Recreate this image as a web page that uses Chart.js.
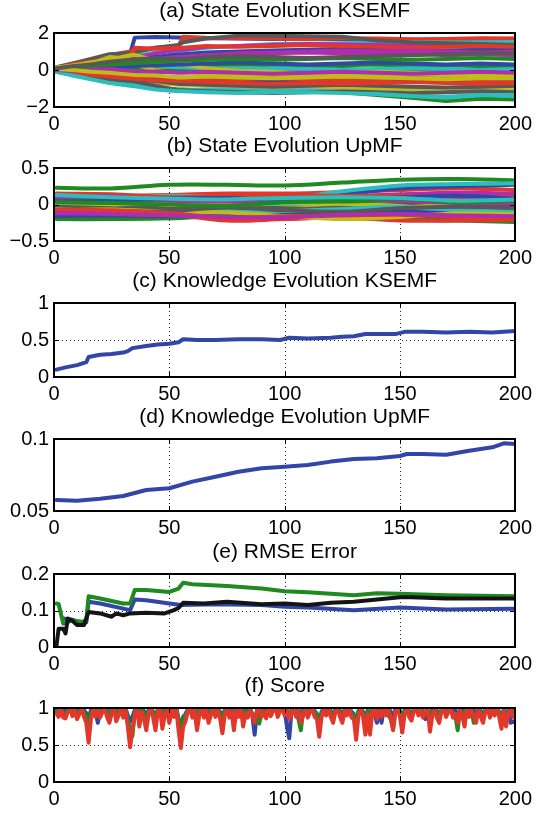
<!DOCTYPE html>
<html><head><meta charset="utf-8">
<script src="https://cdn.jsdelivr.net/npm/chart.js@4/dist/chart.umd.min.js"></script>
<style>
html,body{margin:0;padding:0;background:#fff;}
body{width:537px;height:817px;position:relative;overflow:hidden;}
canvas{position:absolute;left:0;}
</style></head><body>
<canvas id="pa"></canvas><canvas id="pb"></canvas><canvas id="pc"></canvas>
<canvas id="pd"></canvas><canvas id="pe"></canvas><canvas id="pf"></canvas>
<script>
// ---------- shared tick data ----------
const xTicks = [0, 50, 100, 150, 200];
const xLabels = ['0', '50', '100', '150', '200'];

// ---------- (a) State Evolution KSEMF ----------
const titleA = '(a) State Evolution KSEMF';
const yTicksA = [-2, 0, 2];
const yLabelsA = ['\u22122', '0', '2'];
const tA = [1, 8, 16, 24, 33, 35, 44, 54, 56, 66, 80, 95, 110, 125, 140, 155, 170, 185, 200];
const statesA = [
  [0.05,0.2,0.45,0.6,0.88,1.75,1.78,1.76,1.74,1.72,1.7,1.68,1.7,1.66,1.62,1.64,1.58,1.6,1.55],
  [-0.05,-0.2,-0.35,-0.55,-0.7,-0.75,-0.95,-1.05,-1.05,-1.1,-1.12,-1.1,-1.15,-1.2,-1.35,-1.5,-1.68,-1.55,-1.6],
  [0.1,0.3,0.55,0.8,1.0,1.05,1.2,1.3,1.8,1.75,1.72,1.7,1.68,1.72,1.7,1.66,1.68,1.72,1.7],
  [0.0,0.15,0.3,0.5,0.7,0.75,0.95,1.05,1.05,1.2,1.3,1.4,1.42,1.45,1.5,1.52,1.48,1.5,1.52],
  [0.08,0.2,0.35,0.45,0.6,0.65,0.9,1.1,1.1,1.25,1.3,1.35,1.4,1.38,1.35,1.3,1.32,1.35,1.3],
  [0.1,0.05,-0.1,-0.3,-0.5,-0.55,-0.7,-0.8,-0.8,-0.85,-0.9,-0.95,-0.9,-0.95,-1.0,-1.05,-1.0,-0.98,-1.0],
  [0.15,0.35,0.6,0.85,0.9,0.95,1.2,1.35,1.5,1.7,1.85,1.85,1.83,1.8,1.6,1.5,1.45,1.4,1.35],
  [0.0,0.1,0.25,0.3,0.45,0.5,0.7,0.85,0.85,0.95,1.0,1.05,1.1,1.15,1.12,1.1,1.05,1.1,1.1],
  [-0.05,-0.1,0.0,0.1,0.05,0.05,0.15,0.2,0.2,0.25,0.3,0.25,0.2,0.25,0.3,0.2,0.25,0.2,0.2],
  [0.1,0.3,0.45,0.6,0.7,1.2,1.15,1.2,1.2,1.3,1.25,1.3,1.35,1.3,1.25,1.2,1.25,1.3,1.25],
  [-0.1,-0.25,-0.45,-0.65,-0.75,-0.78,-1.0,-1.1,-1.1,-1.05,-1.1,-1.15,-1.1,-1.2,-1.3,-1.4,-1.45,-1.35,-1.4],
  [0.05,0.15,0.3,0.35,0.5,0.55,0.6,0.7,0.7,0.8,0.85,0.9,0.95,0.9,0.85,0.9,0.8,0.85,0.8],
  [0.15,0.2,0.35,0.7,0.6,0.3,0.0,-0.1,-0.1,-0.2,-0.25,-0.3,-0.25,-0.2,-0.3,-0.35,-0.3,-0.25,-0.3],
  [0.0,-0.1,-0.2,-0.3,-0.45,-0.5,-0.6,-0.75,-0.75,-0.8,-0.85,-0.9,-0.85,-0.8,-0.85,-0.9,-0.95,-0.9,-0.85],
  [-0.05,-0.15,-0.2,-0.35,-0.4,-0.42,-0.5,-0.55,-0.55,-0.6,-0.55,-0.6,-0.65,-0.6,-0.55,-0.6,-0.65,-0.6,-0.6],
  [0.0,0.05,0.1,0.0,-0.1,-0.12,-0.1,0.0,0.0,0.05,0.0,-0.05,0.0,0.05,0.0,-0.05,-0.1,-0.05,-0.05],
  [0.05,-0.05,-0.15,-0.2,-0.3,-0.32,-0.35,-0.4,-0.4,-0.45,-0.5,-0.45,-0.5,-0.55,-0.5,-0.45,-0.5,-0.55,-0.5],
  [0.05,0.1,0.1,0.2,0.3,0.32,0.25,0.15,0.15,0.1,0.05,0.1,0.05,0.0,0.05,0.1,0.05,0.0,0.05],
  [0.02,0.1,0.2,0.3,0.4,0.42,0.55,0.7,0.7,0.8,0.9,0.95,1.0,1.05,1.0,1.05,1.0,0.95,1.0],
  [0.1,0.25,0.4,0.55,0.8,0.82,0.5,0.3,0.3,0.1,-0.05,-0.1,-0.2,-0.15,-0.1,-0.15,-0.2,-0.2,-0.2],
  [-0.1,-0.2,-0.35,-0.5,-0.6,-0.62,-0.85,-1.1,-1.1,-1.15,-1.2,-1.25,-1.2,-1.15,-1.2,-1.25,-1.2,-1.15,-1.2],
  [0.0,0.05,0.15,0.1,0.2,0.22,0.25,0.3,0.3,0.35,0.4,0.35,0.3,0.35,0.4,0.35,0.3,0.35,0.3],
  [0.05,0.15,0.2,0.3,0.35,0.37,0.45,0.5,0.5,0.55,0.6,0.55,0.6,0.65,0.6,0.55,0.6,0.65,0.6],
  [-0.05,-0.15,-0.25,-0.35,-0.45,-0.47,-0.55,-0.6,-0.6,-0.65,-0.7,-0.75,-0.7,-0.75,-0.7,-0.65,-0.7,-0.75,-0.7],
  [-0.1,-0.3,-0.5,-0.7,-0.85,-0.88,-1.05,-1.15,-1.15,-1.2,-1.25,-1.2,-1.2,-1.25,-1.3,-1.4,-1.5,-1.35,-1.35],
  [0.0,-0.05,0.0,0.05,-0.05,-0.07,-0.1,-0.15,-0.15,-0.1,-0.15,-0.2,-0.15,-0.1,-0.15,-0.2,-0.15,-0.1,-0.15],
  [0.05,0.0,-0.1,-0.15,-0.25,-0.27,-0.3,-0.4,-0.4,-0.35,-0.4,-0.45,-0.4,-0.35,-0.4,-0.45,-0.5,-0.45,-0.45],
  [0.1,0.2,0.3,0.45,0.55,0.57,0.65,0.6,0.6,0.7,0.75,0.7,0.65,0.7,0.75,0.8,0.85,0.9,0.9]
];

// ---------- (b) State Evolution UpMF ----------
const titleB = '(b) State Evolution UpMF';
const yTicksB = [-0.5, 0, 0.5];
const yLabelsB = ['\u22120.5', '0', '0.5'];
const tB = [1, 25, 50, 75, 100, 125, 150, 175, 200];
const statesB = [
  [-0.15,-0.15,-0.14,-0.16,-0.15,-0.17,-0.18,-0.17,-0.16],
  [0.23,0.22,0.27,0.27,0.26,0.3,0.34,0.35,0.33],
  [0.12,0.12,0.13,0.15,0.15,0.17,0.2,0.22,0.2],
  [-0.05,-0.08,-0.05,-0.02,0.0,0.02,0.05,0.1,0.12],
  [0.05,0.06,0.07,0.06,0.07,0.06,0.13,0.14,0.13],
  [0.0,0.01,-0.02,-0.05,-0.05,-0.03,-0.02,0.0,-0.01],
  [0.02,0.0,-0.06,-0.05,-0.07,-0.04,0.01,0.05,0.03],
  [0.1,0.1,0.08,0.1,0.12,0.14,0.22,0.25,0.27],
  [-0.2,-0.2,-0.19,-0.15,-0.14,-0.15,-0.2,-0.22,-0.24],
  [-0.12,-0.11,-0.13,-0.22,-0.2,-0.18,-0.22,-0.22,-0.21],
  [0.1,0.09,0.12,0.1,0.08,0.18,0.26,0.28,0.29],
  [0.06,0.07,0.05,0.06,0.1,0.11,0.14,0.16,0.15],
  [-0.01,0.0,0.03,0.0,0.02,0.01,-0.02,-0.1,-0.12],
  [-0.03,-0.05,-0.08,-0.06,-0.05,-0.08,-0.06,-0.05,-0.05],
  [-0.16,-0.15,-0.16,-0.14,-0.1,-0.11,-0.1,-0.12,-0.14],
  [0.08,0.08,0.06,0.07,0.05,0.04,0.06,0.07,0.06],
  [0.15,0.14,0.1,0.12,0.13,0.12,0.12,0.1,0.1],
  [-0.06,-0.1,-0.09,-0.08,-0.09,-0.06,-0.03,-0.08,-0.1],
  [0.1,0.11,0.05,0.04,0.04,0.07,0.05,0.02,0.0],
  [-0.08,-0.07,-0.1,-0.11,-0.16,-0.2,-0.17,-0.12,-0.13],
  [-0.1,-0.1,-0.09,-0.04,-0.08,-0.1,-0.05,-0.03,-0.04],
  [0.04,0.05,0.08,0.09,0.06,0.09,0.1,0.12,0.08],
  [0.03,0.02,0.0,-0.02,0.03,0.05,0.08,0.03,0.05],
  [-0.07,-0.08,-0.12,-0.18,-0.16,-0.15,-0.14,-0.17,-0.2],
  [0.13,0.1,0.08,0.07,0.09,0.1,0.09,0.05,0.07],
  [-0.12,-0.13,-0.15,-0.17,-0.18,-0.14,-0.13,-0.15,-0.16]
];

// ---------- (c) Knowledge Evolution KSEMF ----------
const titleC = '(c) Knowledge Evolution KSEMF';
const yTicksC = [0, 0.5, 1];
const yLabelsC = ['0', '0.5', '1'];
const tC = [1,5,10,14,15,20,25,30,32,34,40,45,50,54,56,62,70,80,90,98,102,110,120,125,130,135,140,148,152,160,170,180,190,200];
const knowC = [0.1,0.13,0.16,0.2,0.27,0.3,0.31,0.33,0.35,0.39,0.42,0.44,0.45,0.47,0.51,0.5,0.5,0.51,0.51,0.5,0.53,0.52,0.53,0.545,0.55,0.58,0.58,0.58,0.61,0.61,0.6,0.61,0.6,0.62];

// ---------- (d) Knowledge Evolution UpMF ----------
const titleD = '(d) Knowledge Evolution UpMF';
const yTicksD = [0.05, 0.1];
const yLabelsD = ['0.05', '0.1'];
const tD = [1,10,20,30,40,50,60,70,80,90,100,110,120,130,140,150,153,160,170,180,190,195,200];
const knowD = [0.0576,0.0572,0.0585,0.0604,0.0646,0.0658,0.0704,0.0738,0.0773,0.0797,0.0808,0.0819,0.0843,0.0861,0.0866,0.0882,0.0896,0.0896,0.089,0.0919,0.0942,0.097,0.0965];

// ---------- (e) RMSE Error ----------
const titleE = '(e) RMSE Error';
const yTicksE = [0, 0.1, 0.2];
const yLabelsE = ['0', '0.1', '0.2'];
const tEblue = [4,8,12,14,15,20,33,35,40,50,55,70,90,100,110,130,150,170,200];
const rmseBlue = [0.078,0.075,0.065,0.068,0.124,0.119,0.101,0.13,0.128,0.119,0.115,0.117,0.115,0.11,0.108,0.101,0.108,0.103,0.105];
const tEgreen = [1,2,4,8,12,14,15,20,30,33,35,40,50,54,56,60,75,90,100,110,130,140,150,170,200];
const rmseGreen = [0.119,0.118,0.064,0.073,0.069,0.073,0.139,0.133,0.119,0.119,0.156,0.156,0.151,0.16,0.176,0.172,0.167,0.16,0.153,0.15,0.142,0.147,0.146,0.142,0.139];
const tEblack = [1,2,4,5,6,8,10,13,15,20,25,27,30,33,40,48,52,54,56,65,75,90,100,110,120,130,140,150,155,170,200];
const rmseBlack = [0,0.05,0.05,0.037,0.078,0.072,0.06,0.06,0.096,0.092,0.083,0.092,0.087,0.092,0.094,0.092,0.101,0.107,0.121,0.119,0.124,0.117,0.119,0.115,0.121,0.124,0.13,0.136,0.136,0.133,0.133];

// ---------- (f) Score ----------
const titleF = '(f) Score';
const yTicksF = [0, 0.5, 1];
const yLabelsF = ['0', '0.5', '1'];
const tF = Array.from({length: 200}, (_, i) => i + 1);
const scoreBlue = [
  0.98,0.99,1.0,0.97,0.95,0.99,1.0,0.98,0.99,0.96,0.98,1.0,0.97,0.93,0.85,0.97,0.99,0.95,0.8,0.96,
  0.99,1.0,0.97,0.92,0.98,1.0,0.94,0.98,1.0,0.96,0.99,0.9,0.82,0.88,0.97,1.0,0.9,0.98,0.96,0.88,
  0.97,1.0,0.95,0.88,0.98,1.0,0.9,0.97,0.99,0.92,0.99,0.96,1.0,0.85,0.75,0.88,0.92,0.98,1.0,0.95,
  0.99,0.85,0.97,1.0,0.96,0.99,0.9,0.97,1.0,0.96,0.98,0.95,0.85,0.97,1.0,0.95,0.98,0.88,0.99,0.96,
  1.0,0.9,0.97,0.95,0.99,0.9,0.64,0.98,1.0,0.96,0.98,0.94,0.99,0.97,0.99,1.0,0.95,0.98,1.0,0.96,
  0.75,0.59,0.97,1.0,0.96,0.98,0.9,0.97,0.99,0.95,0.98,1.0,0.96,0.92,0.8,0.95,0.99,0.97,1.0,0.96,
  0.9,0.98,1.0,0.96,0.9,0.98,0.97,1.0,0.95,0.92,0.75,0.96,0.99,0.95,0.8,0.97,0.82,0.98,0.92,0.8,
  0.99,0.8,1.0,0.97,0.99,0.95,0.85,0.98,1.0,0.96,0.85,0.97,0.99,0.96,0.92,0.98,1.0,0.97,0.99,0.95,
  0.85,1.0,0.85,0.97,0.99,0.96,0.9,0.98,1.0,0.96,0.98,0.99,0.95,0.97,0.78,0.99,0.97,0.88,1.0,0.96,
  0.98,0.97,0.9,0.99,0.96,0.9,0.98,1.0,0.96,0.99,0.97,1.0,0.95,0.85,0.98,0.88,0.97,0.8,0.82,0.8
];
const scoreGreen = [
  0.97,0.95,0.99,0.93,0.9,0.97,1.0,0.96,0.98,0.92,0.97,1.0,0.95,0.88,0.75,0.93,0.98,0.95,0.9,0.94,
  0.98,1.0,0.95,0.88,0.97,0.99,0.9,0.96,1.0,0.94,0.98,0.85,0.7,0.62,0.95,0.99,0.85,0.97,0.93,0.8,
  0.96,0.99,0.93,0.82,0.97,1.0,0.85,0.96,0.99,0.88,0.98,0.95,1.0,0.82,0.65,0.85,0.9,0.97,1.0,0.94,
  0.98,0.8,0.96,1.0,0.94,0.98,0.88,0.96,1.0,0.95,0.97,0.93,0.78,0.96,0.99,0.94,0.97,0.82,0.98,0.95,
  0.99,0.85,0.96,0.93,0.98,0.92,0.85,0.94,0.79,0.95,0.97,0.92,0.99,0.96,0.98,1.0,0.94,0.97,1.0,0.95,
  0.98,0.9,0.96,1.0,0.94,0.85,0.7,0.95,0.98,0.93,0.97,1.0,0.95,0.9,0.75,0.93,0.98,0.95,1.0,0.94,
  0.88,0.97,1.0,0.94,0.88,0.97,0.95,1.0,0.93,0.9,0.7,0.95,0.98,0.93,0.76,0.96,0.78,0.97,0.98,0.88,
  0.98,0.94,1.0,0.95,0.9,0.85,0.72,0.97,1.0,0.94,0.8,0.96,0.98,0.94,0.9,0.97,1.0,0.95,0.98,0.93,
  0.94,0.99,0.8,0.95,0.98,0.94,0.88,0.97,1.0,0.95,0.97,0.98,0.92,0.9,0.7,0.98,0.95,0.85,0.99,0.94,
  0.97,0.8,0.88,0.98,0.94,0.88,0.97,1.0,0.95,0.98,0.96,0.99,0.93,0.8,0.97,0.85,0.95,0.98,0.96,0.88
];
const scoreRed = [
  0.93,0.88,1.0,0.87,0.86,0.95,1.0,0.89,0.97,0.85,0.92,1.0,0.88,0.8,0.53,0.85,0.98,0.88,1.0,0.87,
  0.95,1.0,0.88,0.8,0.93,1.0,0.82,0.9,1.0,0.87,0.96,0.75,0.47,0.7,0.9,1.0,0.75,0.95,0.86,0.7,
  0.92,1.0,0.87,0.7,0.95,1.0,0.72,0.9,0.98,0.8,0.96,0.88,1.0,0.7,0.46,0.75,0.82,0.95,1.0,0.87,
  0.96,0.7,0.9,1.0,0.87,0.97,0.8,0.9,1.0,0.88,0.96,0.86,0.66,0.9,1.0,0.87,0.95,0.7,0.97,0.88,
  1.0,0.75,0.92,0.87,0.98,0.9,0.8,0.96,1.0,0.88,0.95,0.86,1.0,0.89,0.97,1.0,0.88,0.96,1.0,0.9,
  0.97,0.85,0.92,1.0,0.88,0.96,0.8,0.9,1.0,0.87,0.95,1.0,0.88,0.85,0.61,0.88,0.98,0.9,1.0,0.88,
  0.8,0.95,1.0,0.88,0.8,0.96,0.9,1.0,0.87,0.85,0.57,0.9,0.98,0.88,0.64,0.92,0.64,0.95,1.0,0.85,
  0.96,0.88,1.0,0.9,0.97,0.87,0.7,0.95,1.0,0.88,0.67,0.92,1.0,0.88,0.83,0.96,1.0,0.9,0.97,0.87,
  0.95,1.0,0.68,0.9,0.98,0.87,0.8,0.96,1.0,0.88,0.95,1.0,0.87,0.92,0.8,0.97,0.9,0.75,1.0,0.88,
  0.96,0.9,0.8,1.0,0.88,0.8,0.95,1.0,0.87,0.97,0.9,1.0,0.88,0.72,0.96,0.75,0.92,1.0,0.88,0.9
];

// ---------- styling ----------
const C_B = '#3246a8', C_G = '#1f8a1f', C_R = '#e2382b', C_C = '#2dbdbd',
      C_M = '#b02db0', C_Y = '#bdbd16', C_K = '#585858', C_BLACK = '#141414';
const colorCycle = [C_B, C_G, C_R, C_C, C_M, C_Y, C_K];
const FONT = "'Liberation Sans', Arial, Helvetica, sans-serif";

const matlabAxes = {
  id: 'matlabAxes',
  beforeDatasetsDraw(chart) {
    const {ctx, chartArea: a, scales: {x, y}} = chart;
    ctx.save();
    ctx.strokeStyle = '#222';
    ctx.lineWidth = 1;
    ctx.setLineDash([1, 3]);
    x.ticks.forEach(t => {
      if (t.value > x.min && t.value < x.max) {
        const px = Math.round(x.getPixelForValue(t.value)) + 0.5;
        ctx.beginPath(); ctx.moveTo(px, a.top); ctx.lineTo(px, a.bottom); ctx.stroke();
      }
    });
    y.ticks.forEach(t => {
      if (t.value > y.min && t.value < y.max) {
        const py = Math.round(y.getPixelForValue(t.value)) + 0.5;
        ctx.beginPath(); ctx.moveTo(a.left, py); ctx.lineTo(a.right, py); ctx.stroke();
      }
    });
    ctx.restore();
  },
  afterDatasetsDraw(chart) {
    const {ctx, chartArea: a, scales: {x, y}} = chart;
    const L = Math.round(a.left), R = Math.round(a.right), T = Math.round(a.top), B = Math.round(a.bottom);
    ctx.save();
    ctx.setLineDash([]);
    ctx.strokeStyle = '#000';
    ctx.lineWidth = 1;
    const tl = 5;
    x.ticks.forEach(t => {
      if (t.value > x.min && t.value < x.max) {
        const px = Math.round(x.getPixelForValue(t.value)) + 0.5;
        ctx.beginPath(); ctx.moveTo(px, B); ctx.lineTo(px, B - tl); ctx.stroke();
        ctx.beginPath(); ctx.moveTo(px, T); ctx.lineTo(px, T + tl); ctx.stroke();
      }
    });
    y.ticks.forEach(t => {
      if (t.value > y.min && t.value < y.max) {
        const py = Math.round(y.getPixelForValue(t.value)) + 0.5;
        ctx.beginPath(); ctx.moveTo(L, py); ctx.lineTo(L + tl, py); ctx.stroke();
        ctx.beginPath(); ctx.moveTo(R, py); ctx.lineTo(R - tl, py); ctx.stroke();
      }
    });
    ctx.lineWidth = 2;
    ctx.strokeRect(L, T, R - L, B - T);
    ctx.restore();
  }
};

function series(xs, ys, color, width, extra) {
  return Object.assign({
    data: xs.map((x, i) => ({x: x, y: ys[i]})),
    borderColor: color, backgroundColor: color,
    borderWidth: width, pointRadius: 0, fill: false, tension: 0,
    borderJoinStyle: 'round', borderCapStyle: 'round'
  }, extra || {});
}

// Chart.js paints dataset 0 on top, so the plot order (last on top, as in the
// original) is obtained by reversing the list.
function panel(id, plotTop, plotH, title, datasets, yMin, yMax, yTicks, yLabels) {
  const TITLE_H = 34, XAX_H = 30;
  const cv = document.getElementById(id);
  cv.width = 537;
  cv.height = TITLE_H + plotH + XAX_H;
  cv.style.top = (plotTop - TITLE_H) + 'px';
  new Chart(cv, {
    type: 'line',
    data: {datasets: datasets.slice().reverse()},
    options: {
      responsive: false, animation: false, devicePixelRatio: 1,
      layout: {padding: {left: 0, right: 17, top: 0, bottom: 0}},
      plugins: {
        legend: {display: false}, tooltip: {enabled: false},
        title: {display: true, text: title, fullSize: false, color: '#000',
          font: {family: FONT, size: 21, weight: 'normal', lineHeight: '24px'},
          padding: {top: 0, bottom: 10}}
      },
      scales: {
        x: {
          type: 'linear', min: 0, max: 200,
          afterBuildTicks: ax => { ax.ticks = xTicks.map(v => ({value: v})); },
          afterFit: ax => { ax.height = XAX_H; },
          ticks: {color: '#000', font: {family: FONT, size: 20}, padding: 5, maxRotation: 0, autoSkip: false,
            callback: v => { const i = xTicks.indexOf(v); return i >= 0 ? xLabels[i] : ''; }},
          grid: {display: false, drawTicks: false}, border: {display: false}
        },
        y: {
          type: 'linear', min: yMin, max: yMax,
          afterBuildTicks: ax => { ax.ticks = yTicks.map(v => ({value: v})); },
          afterFit: ax => { ax.width = 54; },
          ticks: {color: '#000', font: {family: FONT, size: 20}, padding: 5, autoSkip: false,
            callback: v => { const i = yTicks.indexOf(v); return i >= 0 ? yLabels[i] : ''; }},
          grid: {display: false, drawTicks: false}, border: {display: false}
        }
      }
    },
    plugins: [matlabAxes]
  });
}

panel('pa', 33, 74, titleA, statesA.map((s, i) => series(tA, s, colorCycle[i % 7], 4)), -2, 2, yTicksA, yLabelsA);
panel('pb', 168, 73, titleB, statesB.map((s, i) => series(tB, s, colorCycle[i % 7], 4, {tension: 0.35})), -0.5, 0.5, yTicksB, yLabelsB);
panel('pc', 303, 74, titleC, [series(tC, knowC, C_B, 4)], 0, 1, yTicksC, yLabelsC);
panel('pd', 439, 72, titleD, [series(tD, knowD, C_B, 4)], 0.05, 0.1, yTicksD, yLabelsD);
panel('pe', 574, 73, titleE, [
  series(tEblue, rmseBlue, C_B, 4),
  series(tEgreen, rmseGreen, C_G, 4),
  series(tEblack, rmseBlack, C_BLACK, 4)
], 0, 0.2, yTicksE, yLabelsE);
panel('pf', 708, 74, titleF, [
  series(tF, scoreBlue, C_B, 4, {clip: 0}),
  series(tF, scoreGreen, C_G, 4, {clip: 0}),
  series(tF, scoreRed, C_R, 4, {clip: 0})
], 0, 1, yTicksF, yLabelsF);
</script>
</body></html>
